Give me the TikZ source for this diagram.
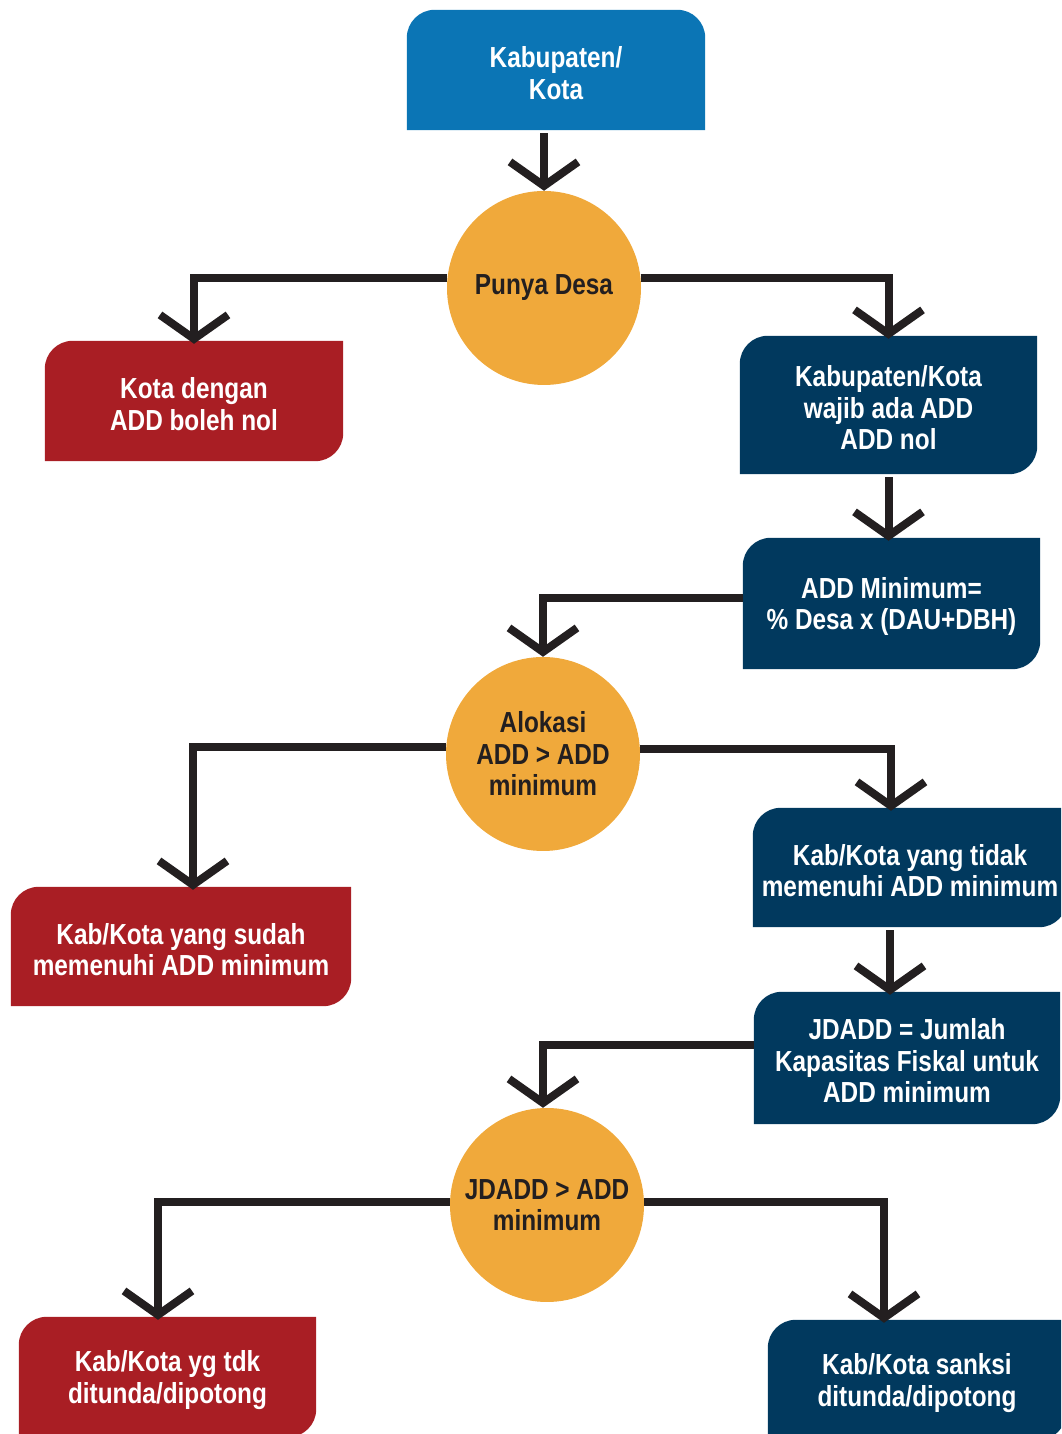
\documentclass[tikz,border=0pt]{standalone}
\usepackage{fontspec}
\setmainfont[FakeStretch=0.84]{Liberation Sans}
\usetikzlibrary{arrows.meta}
\usetikzlibrary{backgrounds}
\definecolor{mblue}{HTML}{0B75B5}
\definecolor{mred}{HTML}{A91E24}
\definecolor{mnavy}{HTML}{01395E}
\definecolor{morange}{HTML}{F0A93B}
\definecolor{mline}{HTML}{231F20}
% the text sits 3pt below the middle of each box
\newcommand{\tabfill}[2]{%
  \fill [#2] ([yshift=3pt]#1.south west) -- ([yshift=-25pt]#1.north west) arc [start angle=180, end angle=90, radius=28pt]
    -- ([yshift=3pt]#1.north east) -- ([yshift=31pt]#1.south east) arc [start angle=0, end angle=-90, radius=28pt] -- cycle;}
\tikzset{
  box/.style={text=white, align=center, inner sep=0pt, font=\bfseries\fontsize{29}{31.5}\selectfont},
  decision/.style={circle, fill=morange, minimum size=194pt, inner sep=0pt, align=center, text=mline, font=\bfseries\fontsize{29}{31.5}\selectfont},
  flow/.style={draw=mline, line width=8pt, -{Straight Barb[length=24pt, width=68pt]}}
}

\begin{document}
\begin{tikzpicture}[x=1pt, y=1pt]
  \useasboundingbox (0, 0) rectangle (1061, 1434);

  \node [box, minimum width=298pt, minimum height=120pt] (kab) at (556, 1361) {Kabupaten/\\Kota};
  \node [decision] (desa) at (544, 1146) {Punya Desa};
  \node [box, minimum width=298pt, minimum height=120pt] (kota) at (194, 1030) {Kota dengan\\ADD boleh nol};
  \node [box, minimum width=297pt, minimum height=138pt] (wajib) at (888.5, 1026) {Kabupaten/Kota\\wajib ada ADD\\ADD nol};
  \node [box, minimum width=297pt, minimum height=131pt] (addmin) at (891.5, 827.5) {ADD Minimum=\\\% Desa x (DAU+DBH)};

  \node [decision] (alokasi) at (543, 680) {Alokasi\\ADD > ADD\\minimum};
  \node [box, minimum width=340pt, minimum height=119pt] (sudah) at (181, 484.5) {Kab/Kota yang sudah\\memenuhi ADD minimum};
  \node [box, minimum width=314pt, minimum height=119pt] (tidak) at (910, 563.5) {Kab/Kota yang tidak\\memenuhi ADD minimum};
  \node [box, minimum width=306pt, minimum height=132pt] (jdadd) at (907, 373) {JDADD = Jumlah\\Kapasitas Fiskal untuk\\ADD minimum};

  \node [decision] (cek) at (547, 229) {JDADD > ADD\\minimum};
  \node [box, minimum width=297pt, minimum height=120pt] (tdk) at (167.5, 54) {Kab/Kota yg tdk\\ditunda/dipotong};
  \node [box, minimum width=298pt, minimum height=120pt] (sanksi) at (917, 51) {Kab/Kota sanksi\\ditunda/dipotong};

  \begin{scope}[on background layer]
    \clip (0, 0) rectangle (1061, 1434);
    \fill [mblue] ([yshift=3pt]kab.south west) -- ([yshift=-25pt]kab.north west) arc [start angle=180, end angle=90, radius=28pt]
      -- ([xshift=-28pt, yshift=3pt]kab.north east) arc [start angle=90, end angle=0, radius=28pt] -- ([yshift=3pt]kab.south east) -- cycle;
    \tabfill{kota}{mred}
    \tabfill{wajib}{mnavy}
    \tabfill{addmin}{mnavy}
    \tabfill{sudah}{mred}
    \tabfill{tidak}{mnavy}
    \tabfill{jdadd}{mnavy}
    \tabfill{tdk}{mred}
    \tabfill{sanksi}{mnavy}

    \draw [flow] (desa.north |- kab.south) -- (desa.north);
    \draw [flow] (desa.174) -| (kota.north);
    \draw [flow] (desa.6) -| (wajib.north);
    \draw [flow] (wajib.south) -- (wajib.south |- addmin.north);
    \draw [flow] ([yshift=8.5pt]addmin.west) -| (alokasi.north);
    \draw [flow] (alokasi.176.5) -| ([xshift=12pt]sudah.north);
    \draw [flow] (alokasi.3.5) -| ([xshift=-19pt]tidak.north);
    \draw [flow] ([xshift=-20pt]tidak.south) -- ([xshift=-20pt]tidak.south |- jdadd.north);
    \draw [flow] ([yshift=16pt]jdadd.west) -| ([xshift=-4pt]cek.north);
    \draw [flow] (cek.178) -| ([xshift=-9.5pt]tdk.north);
    \draw [flow] (cek.2) -| ([xshift=-33pt]sanksi.north);
  \end{scope}
\end{tikzpicture}
\end{document}
